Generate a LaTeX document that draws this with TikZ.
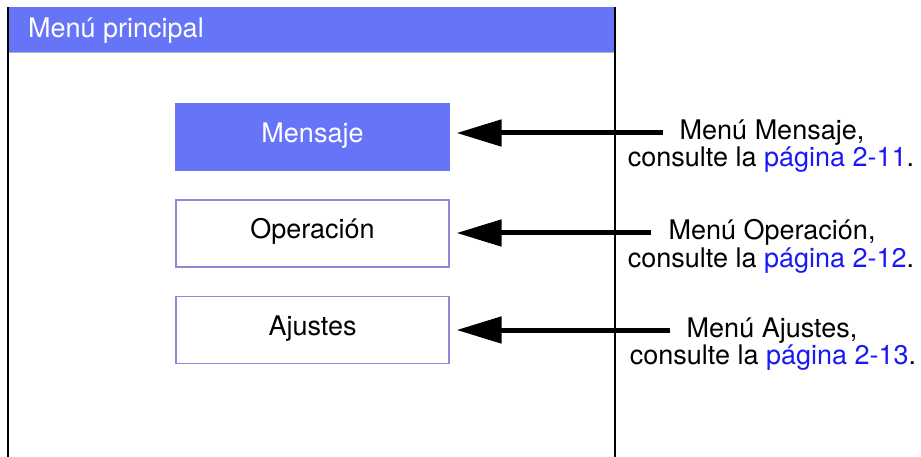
\documentclass[tikz,border=0pt]{standalone}
\usepackage{fontspec}
\setmainfont{TeX Gyre Heros}
\usetikzlibrary{arrows.meta}
\definecolor{barra}{RGB}{102,116,248}
\definecolor{borde}{RGB}{138,138,214}
\definecolor{enlace}{RGB}{25,25,245}
\begin{document}
\begin{tikzpicture}[x=1pt,y=-1pt,
    boton/.style={draw=borde,line width=1.2pt,minimum width=273pt,minimum height=67pt,
      inner sep=0pt,text height=18pt,text depth=7pt},
    linea/.style={inner sep=0pt,text height=19pt,text depth=5pt},
    flecha/.style={line width=5pt,-{Triangle[length=45pt,width=26pt]},shorten >=7pt,shorten <=17pt}]
        \fontsize{27}{27}\selectfont
        \useasboundingbox (0,0) rectangle (921,457);
        % pantalla
        \fill[barra] (8,7) rectangle (615,52);
        \draw[gray!60,line width=0.8pt] (8,52) -- (615,52);
        \draw[line width=1.3pt] (8,7) -- (8,457);
        \draw[line width=1.3pt] (615,7) -- (615,457);
        \node[anchor=base west,inner sep=0pt,text=white] (t) at (28,38) {Menú principal};
        % botones
        \node[boton,fill=barra,draw=barra,text=white] (a) at (312.5,137) {Mensaje};
        \node[boton] (b) at (312.5,233.5) {Operación};
        \node[boton] (c) at (312.5,330) {Ajustes};
        % textos
        \node[linea] (a1) at (772,133) {Menú Mensaje,};
        \node[linea] (a2) at (771,160) {consulte la \textcolor{enlace}{página 2-11}.};
        \node[linea] (b1) at (772,233) {Menú Operación,};
        \node[linea] (b2) at (771,260) {consulte la \textcolor{enlace}{página 2-12}.};
        \node[linea] (c1) at (772,330) {Menú Ajustes,};
        \node[linea] (c2) at (773,357) {consulte la \textcolor{enlace}{página 2-13}.};
        \draw[flecha] (a1.west) -- (a1.west -| a.east);
        \draw[flecha] (b1.west) -- (b1.west -| b.east);
        \draw[flecha] (c1.west) -- (c1.west -| c.east);
    \end{tikzpicture}
\end{document}
